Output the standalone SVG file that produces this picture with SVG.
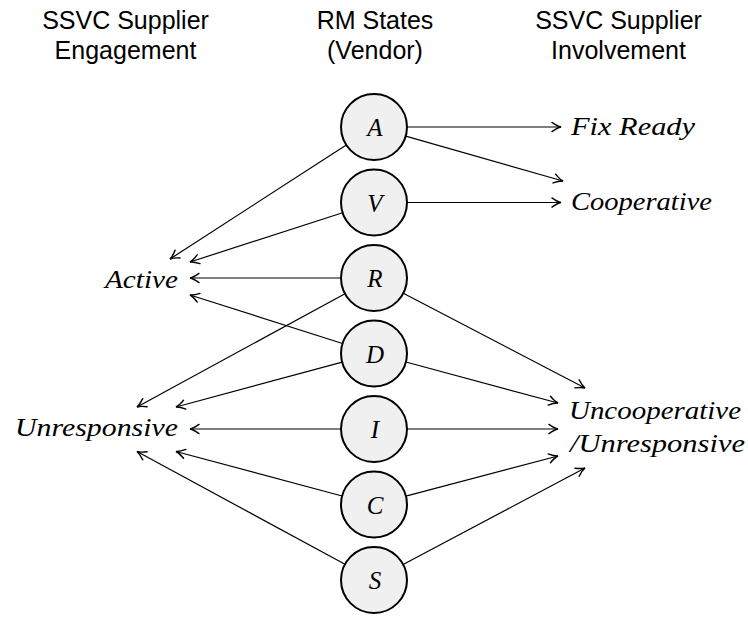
<svg xmlns="http://www.w3.org/2000/svg" width="748" height="618" viewBox="0 0 748 618">
<style>
.title{font-family:"Liberation Sans",Arial,sans-serif;font-size:25px;fill:#000;text-anchor:middle}
.lbl{font-family:"Liberation Serif","Times New Roman",serif;font-style:italic;font-size:25px;fill:#000}
.st{font-family:"Liberation Serif","Times New Roman",serif;font-style:italic;font-size:25px;fill:#000;text-anchor:middle}
.node circle{fill:#f0f0f0;stroke:#000;stroke-width:2}
.edges line{stroke:#000;stroke-width:1.2;fill:none;marker-end:url(#arr)}
</style>
<defs>
<marker id="arr" markerUnits="userSpaceOnUse" markerWidth="12" markerHeight="12" viewBox="-9 -5 10 10" refX="0" refY="0" orient="auto">
<path d="M -7.5 -3.8 Q -3 -0.6 0 0 Q -3 0.6 -7.5 3.8" fill="none" stroke="#000" stroke-width="1.2" stroke-linecap="round"/>
</marker>
</defs>
<rect width="748" height="618" fill="#fff"/>
<g id="titles">
<text class="title" x="125.5" y="29">SSVC Supplier</text>
<text class="title" x="125.5" y="59">Engagement</text>
<text class="title" x="375" y="29">RM States</text>
<text class="title" x="375" y="59">(Vendor)</text>
<text class="title" x="618.5" y="29">SSVC Supplier</text>
<text class="title" x="618.5" y="59">Involvement</text>
</g>
<g id="edges" class="edges">
<line x1="346.3" y1="144.9" x2="170" y2="259"/>
<line x1="342.6" y1="212.7" x2="190" y2="262"/>
<line x1="341" y1="278" x2="190" y2="278"/>
<line x1="342.5" y1="343.5" x2="190" y2="295"/>
<line x1="345" y1="293.7" x2="137" y2="407"/>
<line x1="342.2" y1="362.1" x2="176" y2="407"/>
<line x1="341" y1="429" x2="190" y2="429"/>
<line x1="342.1" y1="496" x2="176" y2="451.5"/>
<line x1="345" y1="564.3" x2="137" y2="451.5"/>
<line x1="407" y1="127" x2="561" y2="127"/>
<line x1="405.7" y1="136.1" x2="563" y2="181"/>
<line x1="407" y1="202.5" x2="561" y2="202.5"/>
<line x1="403.3" y1="293.3" x2="585" y2="388"/>
<line x1="405.9" y1="362" x2="558" y2="403"/>
<line x1="407" y1="429" x2="558" y2="429"/>
<line x1="405.9" y1="496.1" x2="558" y2="456"/>
<line x1="403.1" y1="564.5" x2="585" y2="468"/>
</g>
<g id="A" class="node"><circle cx="374" cy="127" r="33"/><text class="st" x="375" y="136">A</text></g>
<g id="V" class="node"><circle cx="374" cy="202.5" r="33"/><text class="st" x="375" y="211.5">V</text></g>
<g id="R" class="node"><circle cx="374" cy="278" r="33"/><text class="st" x="375" y="287">R</text></g>
<g id="D" class="node"><circle cx="374" cy="353.5" r="33"/><text class="st" x="375" y="362.5">D</text></g>
<g id="I" class="node"><circle cx="374" cy="429" r="33"/><text class="st" x="375" y="438">I</text></g>
<g id="C" class="node"><circle cx="374" cy="504.5" r="33"/><text class="st" x="375" y="513.5">C</text></g>
<g id="S" class="node"><circle cx="374" cy="580" r="33"/><text class="st" x="375" y="589">S</text></g>
<g id="Active"><text class="lbl" x="105" y="288" textLength="73" lengthAdjust="spacingAndGlyphs">Active</text></g>
<g id="Unresponsive"><text class="lbl" x="15" y="436" textLength="163" lengthAdjust="spacingAndGlyphs">Unresponsive</text></g>
<g id="FixReady"><text class="lbl" x="571" y="135" textLength="124" lengthAdjust="spacingAndGlyphs">Fix Ready</text></g>
<g id="Cooperative"><text class="lbl" x="571" y="210" textLength="141" lengthAdjust="spacingAndGlyphs">Cooperative</text></g>
<g id="Uncooperative">
<text class="lbl" x="569" y="419" textLength="172" lengthAdjust="spacingAndGlyphs">Uncooperative</text>
<text class="lbl" x="570" y="452" textLength="175" lengthAdjust="spacingAndGlyphs">/Unresponsive</text>
</g>
</svg>
